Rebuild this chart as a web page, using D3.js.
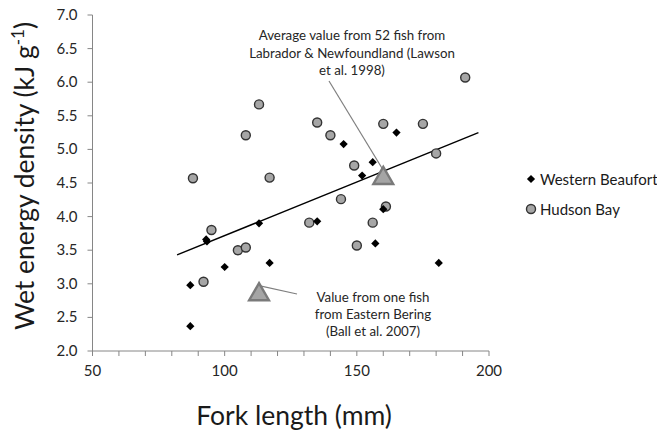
<!DOCTYPE html>
<html>
<head>
<meta charset="utf-8">
<script src="https://cdn.jsdelivr.net/npm/d3@7"></script>
<style>
  html, body { margin: 0; background: #fff; overflow: hidden; }
  svg { display: block; font-family: Lato, "Open Sans", sans-serif; }
  .tick-label { font-size: 15px; fill: #262626; }
  .axis-title { font-size: 26.5px; fill: #1a1a1a; }
  .note { font-size: 13.3px; fill: #262626; }
  .legend-label { font-size: 15px; fill: #1a1a1a; }
</style>
</head>
<body>
<svg id="chart" width="657" height="430"></svg>
<script>
// Western Beaufort (black diamonds)
const beaufortX = [87, 87, 93, 93.3, 100, 113, 117, 135, 145, 152, 156, 157, 160, 165, 181];
const beaufortY = [2.98, 2.37, 3.66, 3.63, 3.25, 3.90, 3.31, 3.93, 5.08, 4.61, 4.81, 3.60, 4.11, 5.25, 3.31];

// Hudson Bay (grey circles)
const hudsonX = [88, 92, 95, 105, 108, 108, 113, 117, 132, 135, 140, 144, 149, 150, 156, 160, 161, 175, 180, 191];
const hudsonY = [4.57, 3.03, 3.80, 3.50, 3.54, 5.21, 5.67, 4.58, 3.91, 5.40, 5.21, 4.26, 4.76, 3.57, 3.91, 5.38, 4.15, 5.38, 4.94, 6.07];

// literature values (grey triangles)
const litX = [160, 113];
const litY = [4.57, 2.84];

// trend line endpoints
const trendX = [82, 196];
const trendY = [3.43, 5.25];

const xTicks = [50, 100, 150, 200];
const xMinorTicks = d3.range(50, 201, 10);
const yTicks = [2.0, 2.5, 3.0, 3.5, 4.0, 4.5, 5.0, 5.5, 6.0, 6.5, 7.0];

const seriesNames = ["Western Beaufort", "Hudson Bay"];

const svg = d3.select("#chart");
const plotLeft = 92.5, plotRight = 489, plotTop = 15, plotBottom = 351;

const x = d3.scaleLinear().domain([50, 200]).range([plotLeft, plotRight]);
const y = d3.scaleLinear().domain([2, 7]).range([plotBottom, plotTop]);

const axisColor = "#868686";

// Y axis
svg.append("line").attr("stroke", axisColor)
  .attr("x1", plotLeft).attr("x2", plotLeft).attr("y1", plotTop).attr("y2", plotBottom);
yTicks.forEach((t) => {
  svg.append("line").attr("stroke", axisColor)
    .attr("x1", plotLeft - 5).attr("x2", plotLeft).attr("y1", y(t)).attr("y2", y(t));
  svg.append("text").attr("class", "tick-label")
    .attr("x", plotLeft - 15).attr("y", y(t) + 5)
    .attr("text-anchor", "end").text(t.toFixed(1));
});

// X axis
svg.append("line").attr("stroke", axisColor)
  .attr("x1", plotLeft).attr("x2", plotRight).attr("y1", plotBottom).attr("y2", plotBottom);
xMinorTicks.forEach((t) => {
  svg.append("line").attr("stroke", axisColor)
    .attr("x1", x(t)).attr("x2", x(t)).attr("y1", plotBottom).attr("y2", plotBottom + 5);
});
xTicks.forEach((t) => {
  svg.append("text").attr("class", "tick-label")
    .attr("x", x(t)).attr("y", plotBottom + 25)
    .attr("text-anchor", "middle").text(t);
});

// Axis titles
svg.append("text").attr("class", "axis-title")
  .attr("x", 294).attr("y", 425).attr("text-anchor", "middle")
  .text("Fork length (mm)");

const yt = svg.append("text").attr("class", "axis-title")
  .attr("transform", "translate(34,176) rotate(-90)")
  .attr("text-anchor", "middle");
yt.append("tspan").text("Wet energy density (kJ g");
yt.append("tspan").attr("dy", -10).attr("font-size", 17).text("-1");
yt.append("tspan").attr("dy", 10).text(")");

// Trend line
svg.append("line").attr("stroke", "#000").attr("stroke-width", 1.4)
  .attr("x1", x(trendX[0])).attr("y1", y(trendY[0]))
  .attr("x2", x(trendX[1])).attr("y2", y(trendY[1]));

// Annotation leader lines
const noteColor = "#7f7f7f";
svg.append("line").attr("stroke", noteColor).attr("stroke-width", 1.2)
  .attr("x1", 329).attr("y1", 81).attr("x2", x(litX[0])).attr("y2", y(litY[0]) - 8);
svg.append("line").attr("stroke", noteColor).attr("stroke-width", 1.2)
  .attr("x1", x(litX[1])).attr("y1", y(litY[1]) - 9).attr("x2", 297).attr("y2", 294);

// Hudson Bay circles
const circleSym = d3.symbol().type(d3.symbolCircle).size(64);
svg.append("g").selectAll("path").data(d3.zip(hudsonX, hudsonY)).join("path")
  .attr("d", circleSym)
  .attr("transform", (d) => `translate(${x(d[0])},${y(d[1])})`)
  .attr("fill", "#a6a6a6").attr("stroke", "#333").attr("stroke-width", 1.4);

// Western Beaufort diamonds
const diamond = d3.symbol().type(d3.symbolSquare).size(34);
svg.append("g").selectAll("path").data(d3.zip(beaufortX, beaufortY)).join("path")
  .attr("d", diamond)
  .attr("transform", (d) => `translate(${x(d[0])},${y(d[1])}) rotate(45)`)
  .attr("fill", "#000");

// Literature triangles
const tri = d3.symbol().type(d3.symbolTriangle).size(170);
svg.append("g").selectAll("path").data(d3.zip(litX, litY)).join("path")
  .attr("d", tri)
  .attr("transform", (d) => `translate(${x(d[0])},${y(d[1])})`)
  .attr("fill", "#a5a5a5").attr("stroke", "#7a7a7a").attr("stroke-width", 2.4)
  .attr("stroke-linejoin", "miter");

// Notes
const note1 = ["Average value from 52 fish from", "Labrador & Newfoundland (Lawson", "et al. 1998)"];
note1.forEach((s, i) => {
  svg.append("text").attr("class", "note").attr("text-anchor", "middle")
    .attr("x", 352).attr("y", 40 + i * 17.5).text(s);
});
const note2 = ["Value from one fish", "from Eastern Bering", "(Ball et al. 2007)"];
note2.forEach((s, i) => {
  svg.append("text").attr("class", "note").attr("text-anchor", "middle")
    .attr("x", 373).attr("y", 301.5 + i * 17).text(s);
});

// Legend
const legendX = 531, legendY = [179, 209];
svg.append("path").attr("d", diamond)
  .attr("transform", `translate(${legendX},${legendY[0]}) rotate(45)`).attr("fill", "#000");
svg.append("path").attr("d", circleSym)
  .attr("transform", `translate(${legendX},${legendY[1]})`)
  .attr("fill", "#a6a6a6").attr("stroke", "#333").attr("stroke-width", 1.4);
seriesNames.forEach((name, i) => {
  svg.append("text").attr("class", "legend-label")
    .attr("x", legendX + 9).attr("y", legendY[i] + 5.5).text(name);
});
</script>
</body>
</html>
